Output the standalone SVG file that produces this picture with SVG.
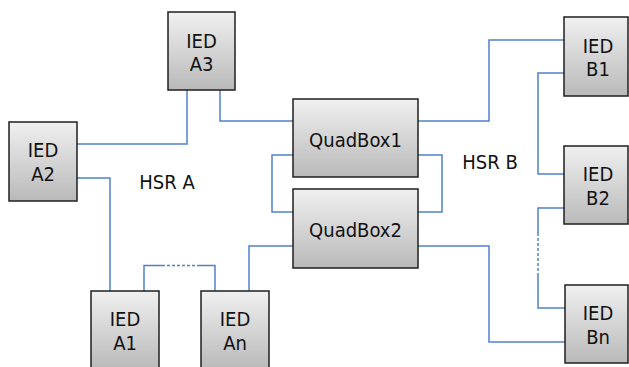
<svg xmlns="http://www.w3.org/2000/svg" width="629" height="367" viewBox="0 0 629 367">
<defs>
<linearGradient id="g" x1="0" y1="0" x2="0" y2="1">
<stop offset="0" stop-color="#f0f0f0"/>
<stop offset="1" stop-color="#b9b9b9"/>
</linearGradient>
</defs>
<style>
.box{fill:url(#g);stroke:#1f1f1f;stroke-width:1.5}
.t{font-family:"DejaVu Sans Condensed","DejaVu Sans",sans-serif;font-size:20px;fill:#111;text-anchor:middle}
.c{fill:none;stroke:#4f81c7;stroke-width:1.5}
.d{fill:none;stroke:#4f81c7;stroke-width:1.5;stroke-dasharray:3 2}
</style>
<rect width="629" height="367" fill="#fff"/>
<g id="connectors">
<path class="c" d="M187,90 V144 H77"/>
<path class="c" d="M220,90 V121 H293"/>
<path class="c" d="M77,178 H110 V291"/>
<path class="c" d="M144,291 V265.5 H162"/>
<path class="d" d="M162,265.5 H200"/>
<path class="c" d="M200,265.5 H215 V291"/>
<path class="c" d="M249,291 V246 H293"/>
<path class="c" d="M293,155 H272 V212 H293"/>
<path class="c" d="M418,155 H442 V212 H418"/>
<path class="c" d="M418,121 H489 V40 H564"/>
<path class="c" d="M564,73 H538 V174 H564"/>
<path class="c" d="M564,208 H538 V233"/>
<path class="d" d="M538,233 V276"/>
<path class="c" d="M538,276 V308 H565"/>
<path class="c" d="M418,246 H489 V342 H565"/>
</g>
<g id="ied-a3"><rect class="box" x="168" y="12" width="67" height="78"/><text class="t" x="201.5" y="47.5">IED</text><text class="t" x="201.5" y="71">A3</text></g>
<g id="ied-a2"><rect class="box" x="9" y="122" width="68" height="79"/><text class="t" x="43" y="157">IED</text><text class="t" x="43" y="181">A2</text></g>
<g id="quadbox1"><rect class="box" x="293" y="99" width="125" height="78"/><text class="t" x="355.5" y="146.5">QuadBox1</text></g>
<g id="quadbox2"><rect class="box" x="293" y="189" width="125" height="79"/><text class="t" x="355.5" y="236.5">QuadBox2</text></g>
<g id="ied-a1"><rect class="box" x="91" y="291" width="68" height="78"/><text class="t" x="125" y="326">IED</text><text class="t" x="125" y="350">A1</text></g>
<g id="ied-an"><rect class="box" x="201" y="291" width="68" height="78"/><text class="t" x="235" y="326">IED</text><text class="t" x="235" y="350">An</text></g>
<g id="ied-b1"><rect class="box" x="564" y="17" width="64" height="79"/><text class="t" x="598" y="52.5">IED</text><text class="t" x="598" y="76">B1</text></g>
<g id="ied-b2"><rect class="box" x="564" y="146" width="64" height="78"/><text class="t" x="598" y="181">IED</text><text class="t" x="598" y="205">B2</text></g>
<g id="ied-bn"><rect class="box" x="565" y="285" width="63" height="78"/><text class="t" x="598" y="320">IED</text><text class="t" x="598" y="344">Bn</text></g>
<g id="labels"><text class="t" x="167" y="189">HSR A</text><text class="t" x="490" y="169">HSR B</text></g>
</svg>
